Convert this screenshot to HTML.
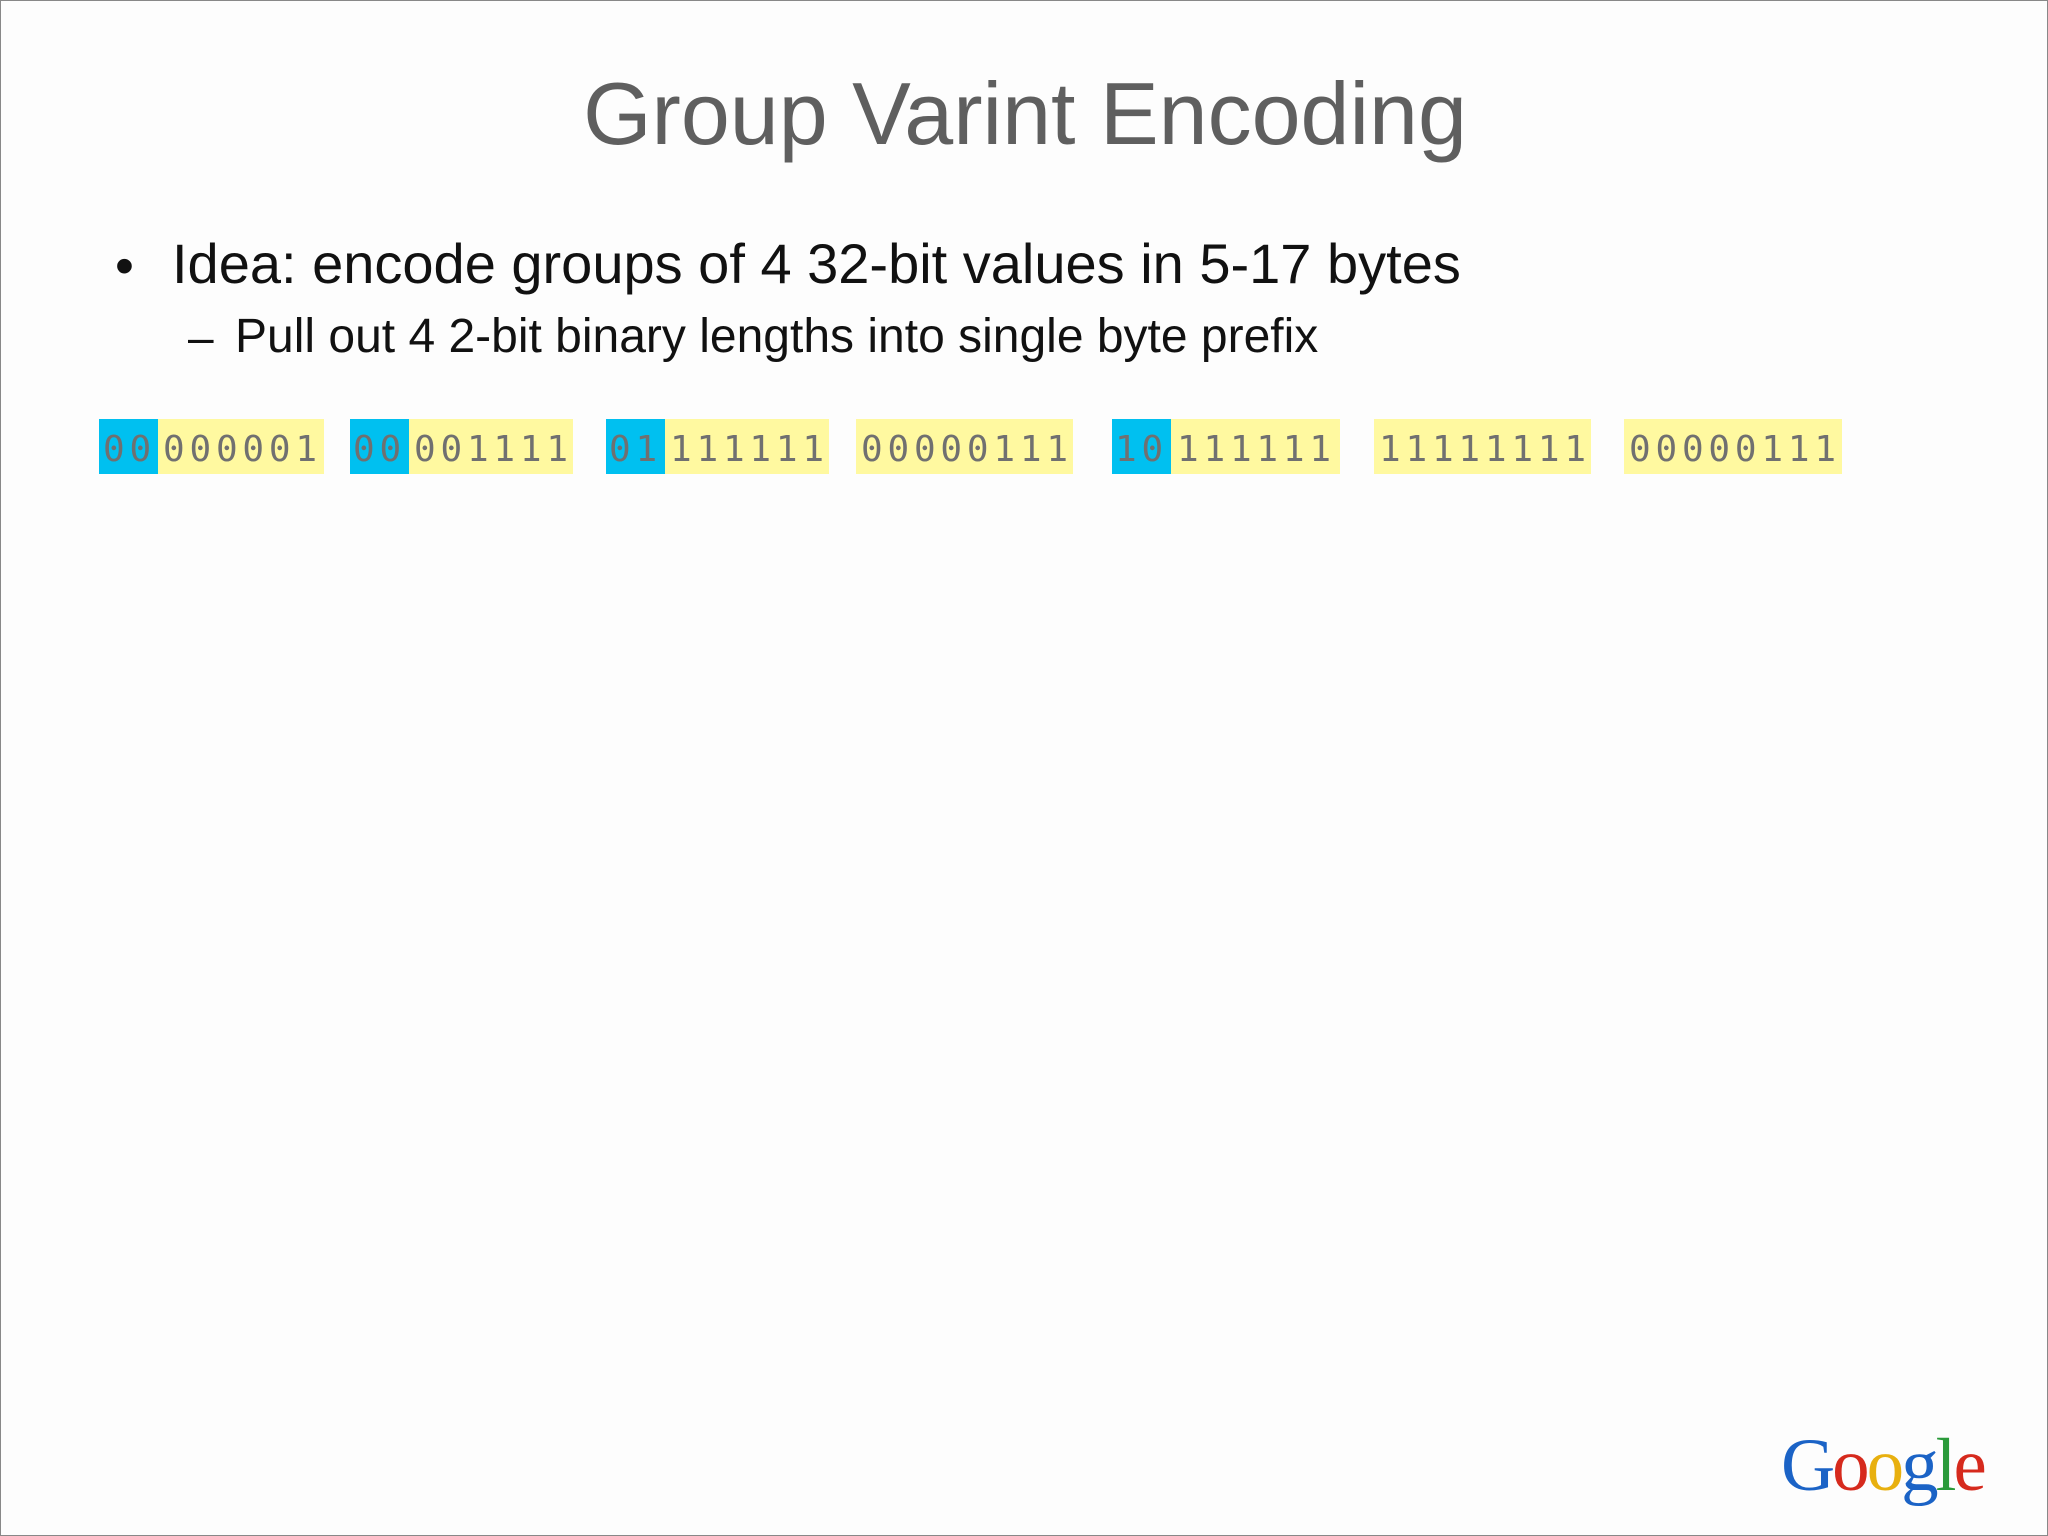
<!DOCTYPE html>
<html><head><meta charset="utf-8"><style>
body{margin:0;width:2048px;height:1536px;overflow:hidden;background:#fdfdfd;font-family:"Liberation Sans",Arial,sans-serif;}
#slide{position:absolute;left:0;top:0;width:2046px;height:1534px;border:1px solid #888;background:#fdfdfd;}
.t{position:absolute;white-space:nowrap;}
.box{position:absolute;top:418px;height:55px;}
.blue{background:#00c0f0;}
.yel{background:#fff9a0;}
.d{position:absolute;top:418px;height:55px;line-height:61px;font-family:"DejaVu Sans Mono",monospace;font-size:36px;color:#707070;letter-spacing:4.8px;white-space:nowrap;}
</style></head><body>
<div id="slide">
<div class="t" style="left:0;width:2048px;text-align:center;top:62px;font-size:88px;color:#5f5f5f;">Group Varint Encoding</div>
<div class="t" style="left:114px;top:234px;font-size:54px;color:#111;">•</div>
<div class="t" style="left:171px;top:230px;font-size:56px;color:#111;">Idea: encode groups of 4 32-bit values in 5-17 bytes</div>
<div class="t" style="left:187px;top:309px;font-size:46px;color:#111;">–</div>
<div class="t" style="left:234px;top:308px;font-size:48px;color:#111;">Pull out 4 2-bit binary lengths into single byte prefix</div>

<div class="box blue" style="left:98px;width:59px"></div>
<div class="box yel" style="left:157px;width:166px"></div>
<div class="box blue" style="left:349px;width:59px"></div>
<div class="box yel" style="left:408px;width:164px"></div>
<div class="box blue" style="left:605px;width:59px"></div>
<div class="box yel" style="left:664px;width:164px"></div>
<div class="box yel" style="left:855px;width:217px"></div>
<div class="box blue" style="left:1111px;width:59px"></div>
<div class="box yel" style="left:1170px;width:169px"></div>
<div class="box yel" style="left:1373px;width:217px"></div>
<div class="box yel" style="left:1623px;width:218px"></div>

<div class="d" style="left:102px">00</div>
<div class="d" style="left:162px">000001</div>
<div class="d" style="left:352px">00</div>
<div class="d" style="left:413px">001111</div>
<div class="d" style="left:608px">01</div>
<div class="d" style="left:669px">111111</div>
<div class="d" style="left:860px">00000111</div>
<div class="d" style="left:1114px">10</div>
<div class="d" style="left:1176px">111111</div>
<div class="d" style="left:1378px">11111111</div>
<div class="d" style="left:1628px">00000111</div>

<div class="t" style="left:1780px;top:1422px;font-family:'Liberation Serif',serif;font-size:75px;letter-spacing:-3px;">
<span style="color:#1b63c6">G</span><span style="color:#d62a1d">o</span><span style="color:#e8b00f">o</span><span style="color:#1b63c6">g</span><span style="color:#2a9a3a">l</span><span style="color:#d62a1d">e</span></div>
</div>
</body></html>
